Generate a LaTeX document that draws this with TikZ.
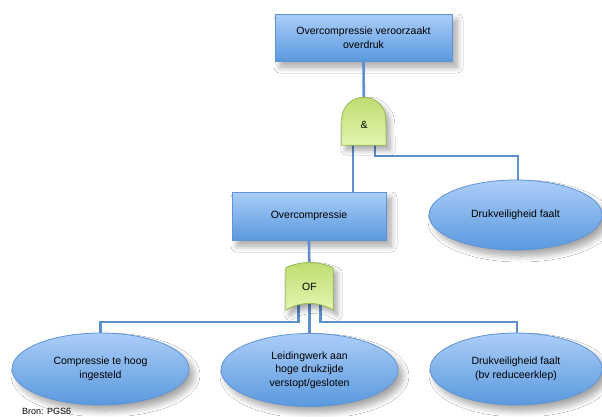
\documentclass[tikz,border=0pt]{standalone}
\usepackage{fontspec}
\setmainfont{Liberation Sans}
\usepackage{xcolor}
\usepackage{tikz}
\usetikzlibrary{shapes.geometric,shadows.blur}
\definecolor{faultblue}{RGB}{91,143,207}
\definecolor{boxtop}{RGB}{171,205,248}
\definecolor{boxbottom}{RGB}{90,153,222}
\definecolor{boxedge}{RGB}{96,148,212}
\definecolor{gatedark}{RGB}{190,220,112}
\definecolor{gatelight}{RGB}{228,246,176}
\definecolor{gateedge}{RGB}{150,186,80}
\tikzset{
  eventbox/.style={
    rectangle,
    draw=boxedge,
    line width=0.8pt,
    top color=boxtop,
    bottom color=boxbottom,
    align=center,
    inner sep=2pt,
    font=\fontsize{10.5}{13.5}\selectfont,
    blur shadow={shadow blur steps=8, shadow blur radius=6pt, shadow xshift=5pt, shadow yshift=-6pt, shadow opacity=35}
  },
  eventellipse/.style={
    ellipse,
    draw=boxedge,
    line width=0.8pt,
    top color=boxtop,
    bottom color=boxbottom,
    align=center,
    inner sep=0pt,
    font=\fontsize{10.5}{13.5}\selectfont,
    blur shadow={shadow blur steps=8, shadow blur radius=6pt, shadow xshift=5pt, shadow yshift=-6pt, shadow opacity=35}
  },
  gatenode/.style={
    rectangle,
    inner sep=0pt,
    minimum width=46pt,
    minimum height=48pt,
    font=\fontsize{10.5}{13.5}\selectfont
  },
  gateshape/.style={
    draw=gateedge,
    line width=0.8pt,
    top color=gatedark,
    bottom color=gatelight,
    blur shadow={shadow blur steps=8, shadow blur radius=5pt, shadow xshift=4pt, shadow yshift=-5pt, shadow opacity=35}
  },
  faultline/.style={
    line width=2.6pt,
    draw=faultblue
  }
}

\begin{document}
\begin{tikzpicture}[x=1pt,y=-1pt]
\useasboundingbox[fill=white] (0,0) rectangle (602,416);

% events
\node[eventbox, minimum width=177pt, minimum height=47pt] (top) at (363.5,37.5) {Overcompressie veroorzaakt\\overdruk};
\node[eventbox, minimum width=154pt, minimum height=48pt] (overcomp) at (309,216) {Overcompressie};
\node[eventellipse, minimum width=173pt, minimum height=70pt] (safety) at (515.5,215) {Drukveiligheid faalt};
\node[eventellipse, minimum width=177pt, minimum height=72pt] (comphigh) at (100.5,369) {Compressie te hoog\\ingesteld};
\node[eventellipse, minimum width=177pt, minimum height=73pt] (pipes) at (309.5,370) {Leidingwerk aan\\hoge drukzijde\\verstopt/gesloten};
\node[eventellipse, minimum width=172pt, minimum height=72pt] (valve) at (516,369) {Drukveiligheid faalt\\(bv reduceerklep)};

% gates (outline drawn later)
\node[gatenode, minimum width=44pt] (andgate) at (364,121) {};
\node[gatenode, minimum width=47pt, minimum height=47pt] (orgate) at (309.5,286.5) {};

% connectors
\draw[faultline] (top.south) -- (andgate.center);
\draw[faultline] ([xshift=-11pt]andgate.center) -- ([xshift=-11pt]andgate.center |- overcomp.north);
\draw[faultline] ([xshift=11pt]andgate.center) |- (518,156) -- (safety.north -| 518,0);
\draw[faultline] (overcomp.south) -- (orgate.center);
\draw[faultline] ([xshift=-11pt]orgate.center) |- (100.5,322) -- (comphigh.north);
\draw[faultline] (orgate.center) -- (pipes.north);
\draw[faultline] ([xshift=11pt]orgate.center) |- (517,322) -- (valve.north -| 517,0);

% and gate
\path[gateshape] (andgate.south west) -- ([yshift=26pt]andgate.south west)
  arc[start angle=180, end angle=0, radius=22pt]
  -- (andgate.south east) -- cycle;
\node[font=\fontsize{10.5}{13.5}\selectfont] (andlabel) at ([yshift=-4pt]andgate.center) {\&};

% or gate
\path[gateshape] ([yshift=-5pt]orgate.north west)
  .. controls ([xshift=14pt,yshift=2pt]orgate.north west) and ([xshift=-14pt,yshift=2pt]orgate.north east) .. ([yshift=-5pt]orgate.north east)
  -- (orgate.south east)
  .. controls ([xshift=-14pt,yshift=9pt]orgate.south east) and ([xshift=14pt,yshift=9pt]orgate.south west) .. (orgate.south west)
  -- cycle;
\node[font=\fontsize{10.5}{13.5}\selectfont] (orlabel) at (orgate.center) {OF};

% source
\node[anchor=base west, inner sep=0pt, font=\fontsize{9}{11}\selectfont] (source) at (22,414) {Bron: PGS6};
\end{tikzpicture}
\end{document}
